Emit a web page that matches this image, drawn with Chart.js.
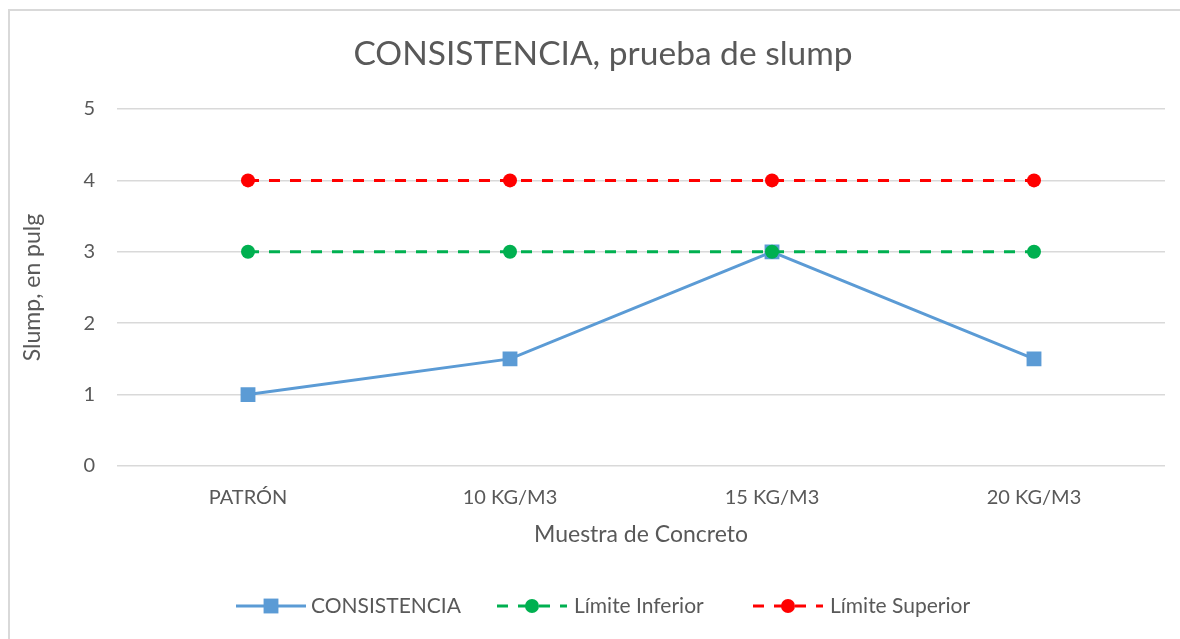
<!DOCTYPE html>
<html><head><meta charset="utf-8">
<script src="https://cdn.jsdelivr.net/npm/chart.js@4"></script>
<style>
html,body{margin:0;padding:0;background:#fff;overflow:hidden;width:1180px;height:639px}
#frame{position:absolute;left:8px;top:9px;width:1200px;height:700px;border:2px solid #d9d9d9;box-sizing:border-box}
#wrap{position:absolute;left:0;top:0;width:1180px;height:639px}
</style></head>
<body><div id="frame"></div><div id="wrap"><canvas id="c"></canvas></div>
<script>
const categories = ['PATRÓN', '10 KG/M3', '15 KG/M3', '20 KG/M3'];
const consistencia = [1, 1.5, 3, 1.5];
const limiteInferior = [3, 3, 3, 3];
const limiteSuperior = [4, 4, 4, 4];
const yTicks = [0, 1, 2, 3, 4, 5];
const seriesNames = ['CONSISTENCIA', 'Límite Inferior', 'Límite Superior'];
const chartTitle = 'CONSISTENCIA, prueba de slump';
const xTitle = 'Muestra de Concreto';
const yTitle = 'Slump, en pulg';

const FONT = 'Lato, "Open Sans", sans-serif';
const TXT = '#595959';

const textPlugin = {
  id: 'texts',
  afterDraw(chart) {
    const ctx = chart.ctx;
    const ca = chart.chartArea;
    ctx.save();
    ctx.fillStyle = TXT;
    ctx.textAlign = 'center';
    ctx.textBaseline = 'middle';
    ctx.font = '33.5px ' + FONT;
    ctx.fillText(chartTitle, 603, 54);
    ctx.font = '23px ' + FONT;
    ctx.fillText(xTitle, (ca.left + ca.right) / 2, 535);
    ctx.save();
    ctx.translate(33, (ca.top + ca.bottom) / 2);
    ctx.rotate(-Math.PI / 2);
    ctx.fillText(yTitle, 0, 0);
    ctx.restore();
    const items = [
      {x: 236, tx: 311},
      {x: 497, tx: 574},
      {x: 753, tx: 830}
    ];
    const ly = 606;
    [0, 1, 2].forEach((di, i) => {
      const ds = chart.data.datasets[di];
      const it = items[i];
      ctx.save();
      ctx.strokeStyle = ds.borderColor;
      ctx.lineWidth = ds.borderWidth;
      ctx.setLineDash(ds.borderDash || []);
      ctx.beginPath();
      ctx.moveTo(it.x, ly);
      ctx.lineTo(it.x + 70, ly);
      ctx.stroke();
      ctx.setLineDash([]);
      ctx.fillStyle = ds.pointBackgroundColor;
      ctx.beginPath();
      if (ds.pointStyle === 'rect') {
        const s = ds.pointRadius * Math.SQRT1_2;
        ctx.rect(it.x + 35 - s, ly - s, 2 * s, 2 * s);
      } else {
        ctx.arc(it.x + 35, ly, ds.pointRadius, 0, Math.PI * 2);
      }
      ctx.fill();
      ctx.restore();
      ctx.fillStyle = TXT;
      ctx.textAlign = 'left';
      ctx.font = '21px ' + FONT;
      ctx.fillText(seriesNames[di], it.tx, ly);
    });
    ctx.restore();
  }
};

new Chart(document.getElementById('c'), {
  type: 'line',
  data: {
    labels: categories,
    datasets: [
      {label: seriesNames[0], data: consistencia, borderColor: '#5b9bd5', backgroundColor: '#5b9bd5',
       pointBackgroundColor: '#5b9bd5', pointBorderColor: '#5b9bd5', borderWidth: 3,
       pointStyle: 'rect', pointRadius: 10.5, pointBorderWidth: 0, order: 3, tension: 0},
      {label: seriesNames[1], data: limiteInferior, borderColor: '#00b050', backgroundColor: '#00b050',
       pointBackgroundColor: '#00b050', pointBorderColor: '#00b050', borderWidth: 3, borderDash: [11, 10],
       pointStyle: 'circle', pointRadius: 7, pointBorderWidth: 0, order: 1},
      {label: seriesNames[2], data: limiteSuperior, borderColor: '#ff0000', backgroundColor: '#ff0000',
       pointBackgroundColor: '#ff0000', pointBorderColor: '#ff0000', borderWidth: 3, borderDash: [11, 10],
       pointStyle: 'circle', pointRadius: 7, pointBorderWidth: 0, order: 2}
    ]
  },
  options: {
    responsive: true,
    maintainAspectRatio: false,
    animation: false,
    layout: {padding: {left: 0, right: 15, top: 109, bottom: 113}},
    plugins: {legend: {display: false}, title: {display: false}, tooltip: {enabled: false}},
    scales: {
      x: {
        type: 'category', offset: true,
        grid: {display: false, drawTicks: false}, border: {display: false},
        ticks: {color: TXT, font: {family: FONT, size: 20}, padding: 20, maxRotation: 0},
        afterFit(s) { s.height = 60; }
      },
      y: {
        min: 0, max: 5,
        afterBuildTicks(s) { s.ticks = yTicks.map(v => ({value: v})); },
        grid: {color: '#d9d9d9', lineWidth: 1.5, drawTicks: false}, border: {display: false},
        ticks: {color: TXT, font: {family: FONT, size: 20}, padding: 22},
        afterFit(s) { s.width = 117; }
      }
    }
  },
  plugins: [textPlugin]
});
</script>
</body></html>
